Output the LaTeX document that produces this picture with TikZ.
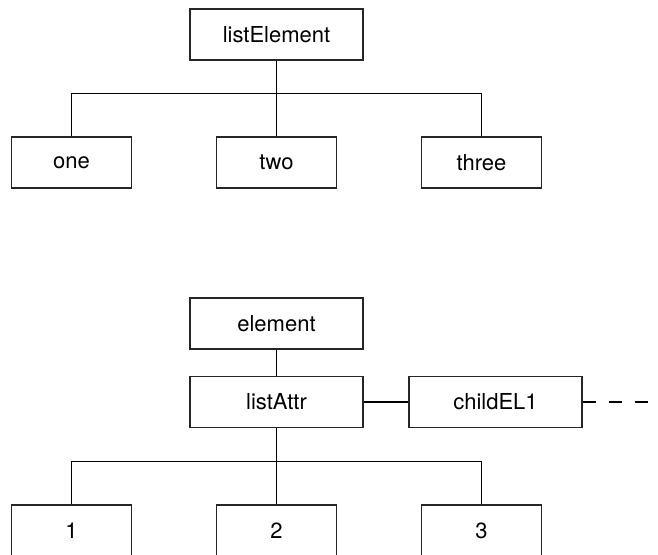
\documentclass[tikz,border=0pt]{standalone}
\usepackage{fontspec}
\setmainfont{TeX Gyre Heros}
\usetikzlibrary{positioning}
\tikzset{
box/.style={draw=black!85, line width=1.1pt, rectangle, minimum height=38.25pt, minimum width=90pt, inner sep=0pt}, % the plain boxes
wide/.style={minimum width=129.75pt}, % the wider boxes of the parents
every node/.style={font=\fontsize{16.5}{19}\selectfont},
link/.style={line width=1.1pt}, % the tree lines
}

\begin{document}
\begin{tikzpicture}[x=0.75pt, y=-0.75pt]
  \useasboundingbox (0,0) rectangle (658,555);

  % Upper tree
  \node[box, wide] (le) at (276.5,34.5) {listElement};
  \node[box, below of=le, node distance=96pt] (two) {two};
  \node[box, left of=two, node distance=153.75pt] (one) {one};
  \node[box, right of=two, node distance=153.75pt] (three) {three};

  \draw[link] (le) -- (two);
  \draw[link] (one.north) -- ++(0,-43) -| (three.north);

  % Lower tree
  \node[box, wide] (el) at (276.5,323.5) {element};
  \node[box, wide, below of=el, node distance=58.875pt] (la) {listAttr};
  \node[box, wide, right of=la, node distance=164.25pt] (ch) {childEL1};
  \coordinate[right of=ch, node distance=115.875pt] (more);
  \node[box, below of=la, node distance=96.375pt] (n2) {2};
  \node[box, left of=n2, node distance=153.75pt] (n1) {1};
  \node[box, right of=n2, node distance=153.75pt] (n3) {3};

  \draw[link] (el) -- (la);
  \draw[link] (la) -- (ch);
  \draw[link, dash pattern=on 9.75pt off 9.75pt] (ch) -- (more);
  \draw[link] (la) -- (n2);
  \draw[link] (n1.north) -- ++(0,-43) -| (n3.north);
\end{tikzpicture}
\end{document}
